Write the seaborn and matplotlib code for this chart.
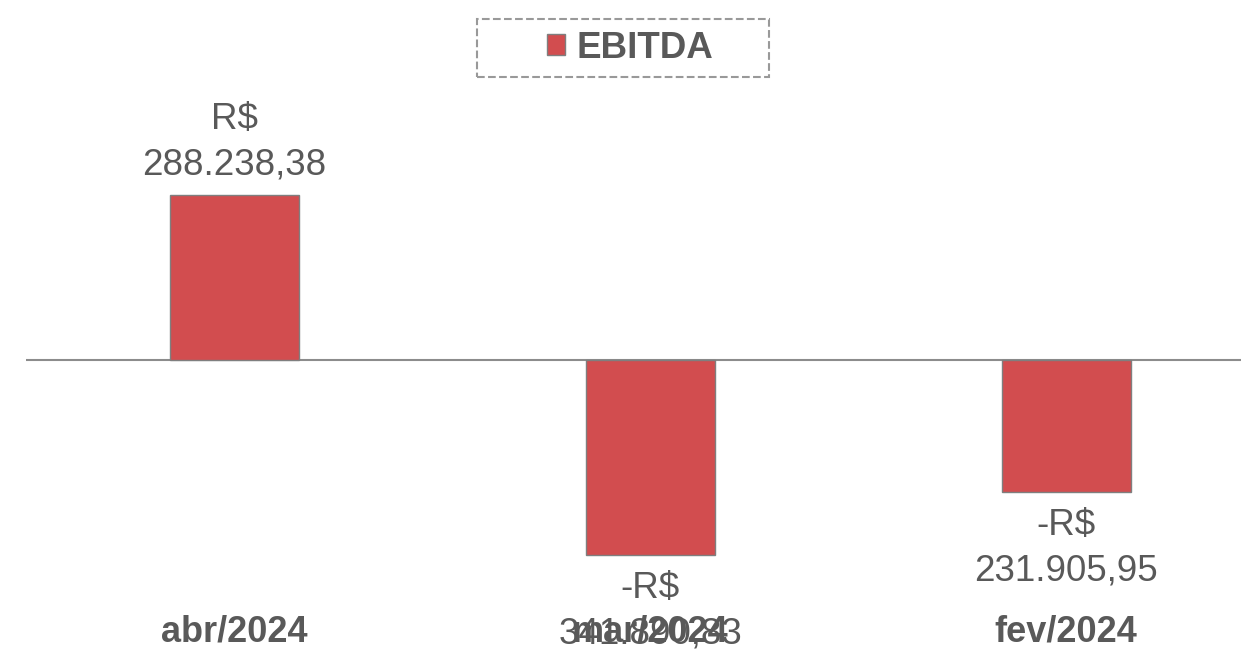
import matplotlib
matplotlib.use("Agg")
import matplotlib.pyplot as plt
from matplotlib.patches import Rectangle, Patch
import seaborn as sns
import pandas as pd

# data
months = ["abr/2024", "mar/2024", "fev/2024"]
ebitda = [288238.38, -341890.83, -231905.95]
value_labels = ["R$\n288.238,38", "-R$\n341.890,83", "-R$\n231.905,95"]

bar_color = "#D24D4F"
text_gray = "#595959"

sns.set_theme(style="white")
plt.rcParams["font.family"] = ["Liberation Sans", "DejaVu Sans"]

df = pd.DataFrame({"Mes": months, "EBITDA": ebitda})

fig = plt.figure(figsize=(12.41, 6.51), dpi=100)
ax = fig.add_axes([0.021, 0.0553, 0.979, 0.799])

sns.barplot(data=df, x="Mes", y="EBITDA", color=bar_color, width=0.31,
            edgecolor="#7f7f7f", linewidth=1.0, saturation=1, ax=ax)

ax.set_xlim(-0.5, 2.42)
ax.set_ylim(-446000, 463000)
ax.axhline(0, color="#8c8c8c", lw=1.5, zorder=0)

for s in ax.spines.values():
    s.set_visible(False)
ax.set_yticks([])
ax.set_xlabel("")
ax.set_ylabel("")
ax.tick_params(axis="x", length=0, pad=0, labelsize=26, labelcolor=text_gray)
for t in ax.get_xticklabels():
    t.set_fontweight("bold")

# value labels above / below each bar
for bar, val, lab in zip(ax.patches, ebitda, value_labels):
    cx = bar.get_x() + bar.get_width() / 2
    if val >= 0:
        ax.annotate(lab, (cx, val), xytext=(0, 9), textcoords="offset points",
                    ha="center", va="bottom", fontsize=26.5, color=text_gray,
                    linespacing=1.4)
    else:
        ax.annotate(lab, (cx, val), xytext=(0, -11), textcoords="offset points",
                    ha="center", va="top", fontsize=26.5, color=text_gray,
                    linespacing=1.4)

# legend with dashed box
handle = Patch(facecolor=bar_color, edgecolor="#7f7f7f", linewidth=1.0)
leg = fig.legend([handle], ["EBITDA"], loc="center",
                 bbox_to_anchor=(630 / 1241, 1 - 48 / 651), frameon=False,
                 prop={"size": 26.5, "weight": "bold"},
                 handlelength=0.5, handleheight=0.5, handletextpad=0.3)
for t in leg.get_texts():
    t.set_color(text_gray)
fig.patches.append(Rectangle((477 / 1241, 1 - 77 / 651), 292 / 1241, 58 / 651,
                             transform=fig.transFigure, fill=False,
                             ls="--", ec="#999999", lw=1.5))

fig.savefig("out.png", dpi=100)
